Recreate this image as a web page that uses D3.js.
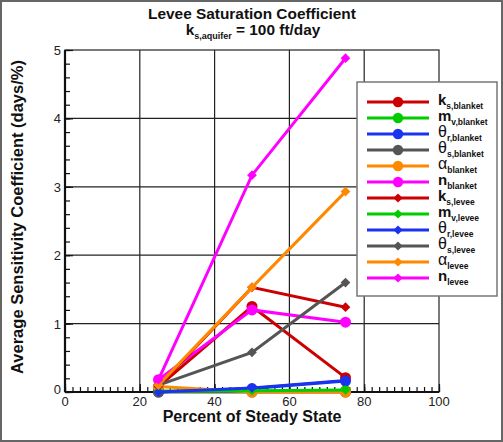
<!DOCTYPE html>
<html>
<head>
<meta charset="utf-8">
<script src="https://cdn.jsdelivr.net/npm/d3@7"></script>
<style>
  html, body { margin: 0; padding: 0; background: #fff; }
  svg { display: block; font-family: "Liberation Sans", Arial, sans-serif; }
</style>
</head>
<body>
<div id="chart"></div>
<script>
const xValues = [25, 50, 75];

const ksBlanket = [0.08, 1.25, 0.21];
const mvBlanket = [0.01, 0.01, 0.02];
const thetaRBlanket = [0.0, 0.05, 0.16];
const thetaSBlanket = [0.0, 0.0, 0.0];
const alphaBlanket = [0.08, 0.0, 0.0];
const nBlanket = [0.18, 1.2, 1.02];
const ksLevee = [0.08, 1.53, 1.24];
const mvLevee = [0.01, 0.02, 0.03];
const thetaRLevee = [0.0, 0.06, 0.17];
const thetaSLevee = [0.1, 0.58, 1.6];
const alphaLevee = [0.1, 1.53, 2.93];
const nLevee = [0.18, 3.17, 4.88];

const xTicks = [0, 20, 40, 60, 80, 100];
const yTicks = [0, 1, 2, 3, 4, 5];

const seriesList = [
  { main: "k", sub: "s,blanket", greek: false, values: ksBlanket, color: "#cc0000", shape: "circle" },
  { main: "m", sub: "v,blanket", greek: false, values: mvBlanket, color: "#00cc00", shape: "circle" },
  { main: "\u03b8", sub: "r,blanket", greek: true, values: thetaRBlanket, color: "#1a33ee", shape: "circle" },
  { main: "\u03b8", sub: "s,blanket", greek: true, values: thetaSBlanket, color: "#555555", shape: "circle" },
  { main: "\u03b1", sub: "blanket", greek: true, values: alphaBlanket, color: "#ff8800", shape: "circle" },
  { main: "n", sub: "blanket", greek: false, values: nBlanket, color: "#ff00ff", shape: "circle" },
  { main: "k", sub: "s,levee", greek: false, values: ksLevee, color: "#cc0000", shape: "diamond" },
  { main: "m", sub: "v,levee", greek: false, values: mvLevee, color: "#00cc00", shape: "diamond" },
  { main: "\u03b8", sub: "r,levee", greek: true, values: thetaRLevee, color: "#1a33ee", shape: "diamond" },
  { main: "\u03b8", sub: "s,levee", greek: true, values: thetaSLevee, color: "#555555", shape: "diamond" },
  { main: "\u03b1", sub: "levee", greek: true, values: alphaLevee, color: "#ff8800", shape: "diamond" },
  { main: "n", sub: "levee", greek: false, values: nLevee, color: "#ff00ff", shape: "diamond" }
];

const W = 503, H = 442;
const plot = { left: 65, right: 439, top: 50, bottom: 392 };

const x = d3.scaleLinear().domain([0, 100]).range([plot.left, plot.right]);
const y = d3.scaleLinear().domain([0, 5]).range([plot.bottom, plot.top]);

const svg = d3.select("#chart").append("svg")
  .attr("width", W)
  .attr("height", H);

// image frame
svg.append("rect")
  .attr("x", 1).attr("y", 1)
  .attr("width", W - 2).attr("height", H - 2)
  .attr("fill", "#fff")
  .attr("stroke", "#666")
  .attr("stroke-width", 2);

// grid
const grid = svg.append("g").attr("stroke", "#222").attr("stroke-width", 1.2);
xTicks.slice(1, -1).forEach((t) => {
  grid.append("line")
    .attr("x1", x(t)).attr("x2", x(t))
    .attr("y1", plot.top).attr("y2", plot.bottom);
});
yTicks.slice(1, -1).forEach((t) => {
  grid.append("line")
    .attr("x1", plot.left).attr("x2", plot.right)
    .attr("y1", y(t)).attr("y2", y(t));
});

// frame of plot
svg.append("rect")
  .attr("x", plot.left).attr("y", plot.top)
  .attr("width", plot.right - plot.left).attr("height", plot.bottom - plot.top)
  .attr("fill", "none").attr("stroke", "#222").attr("stroke-width", 1.2);

// axes with inward ticks
const xAxisMinor = d3.axisTop(x).tickValues(d3.range(0, 101, 2)).tickSize(5).tickFormat("");
const xAxisMajor = d3.axisTop(x).tickValues(xTicks).tickSize(8).tickFormat("");
const yAxisMinor = d3.axisRight(y).tickValues(d3.range(0, 5.01, 0.2)).tickSize(5).tickFormat("");
const yAxisMajor = d3.axisRight(y).tickValues(yTicks).tickSize(8).tickFormat("");

[xAxisMinor, xAxisMajor].forEach((ax) => {
  const g = svg.append("g").attr("transform", `translate(0,${plot.bottom})`).call(ax);
  g.select(".domain").remove();
  g.selectAll("line").attr("stroke", "#111").attr("stroke-width", 1.2);
});
[yAxisMinor, yAxisMajor].forEach((ax) => {
  const g = svg.append("g").attr("transform", `translate(${plot.left},0)`).call(ax);
  g.select(".domain").remove();
  g.selectAll("line").attr("stroke", "#111").attr("stroke-width", 1.2);
});

// thick axis lines
svg.append("line")
  .attr("x1", plot.left).attr("x2", plot.right)
  .attr("y1", plot.bottom).attr("y2", plot.bottom)
  .attr("stroke", "#111").attr("stroke-width", 2.2);
svg.append("line")
  .attr("x1", plot.left).attr("x2", plot.left)
  .attr("y1", plot.top).attr("y2", plot.bottom)
  .attr("stroke", "#111").attr("stroke-width", 2.2);

// tick labels
svg.append("g").selectAll("text")
  .data(xTicks)
  .join("text")
  .attr("x", (d) => x(d))
  .attr("y", plot.bottom + 14)
  .attr("text-anchor", "middle")
  .attr("font-size", 13)
  .attr("fill", "#222")
  .text((d) => d);

svg.append("g").selectAll("text")
  .data(yTicks)
  .join("text")
  .attr("x", plot.left - 4)
  .attr("y", (d) => y(d) + (d === 0 ? 2 : 5))
  .attr("text-anchor", "end")
  .attr("font-size", 13)
  .attr("fill", "#222")
  .text((d) => d);

// axis titles
svg.append("text")
  .attr("x", 252)
  .attr("y", 422)
  .attr("text-anchor", "middle")
  .attr("font-size", 16)
  .attr("font-weight", "bold")
  .attr("fill", "#111")
  .text("Percent of Steady State");

svg.append("text")
  .attr("transform", `translate(23,${(plot.top + plot.bottom) / 2 - 4}) rotate(-90)`)
  .attr("text-anchor", "middle")
  .attr("font-size", 16.5)
  .attr("font-weight", "bold")
  .attr("fill", "#111")
  .text("Average Sensitivity Coefficient (days/%)");

// title
svg.append("text")
  .attr("x", 252)
  .attr("y", 19)
  .attr("text-anchor", "middle")
  .attr("font-size", 15.4)
  .attr("font-weight", "bold")
  .attr("fill", "#111")
  .text("Levee Saturation Coefficient");

const sub = svg.append("text")
  .attr("x", 253)
  .attr("y", 35)
  .attr("text-anchor", "middle")
  .attr("font-size", 15.4)
  .attr("font-weight", "bold")
  .attr("fill", "#111");
sub.append("tspan").text("k");
sub.append("tspan").attr("font-size", 9).attr("dy", 4).text("s,aquifer");
sub.append("tspan").attr("dy", -4).text(" = 100 ft/day");

// series
const line = d3.line().x((d) => x(d[0])).y((d) => y(d[1]));

function drawMarker(g, shape, color, cx, cy, scale) {
  if (shape === "circle") {
    g.append("circle")
      .attr("cx", cx).attr("cy", cy).attr("r", 5.5 * scale)
      .attr("fill", color);
  } else {
    g.append("path")
      .attr("d", d3.symbol().type(d3.symbolDiamond2).size(60 * scale * scale)())
      .attr("transform", `translate(${cx},${cy})`)
      .attr("fill", color);
  }
}

const seriesG = svg.append("g");
seriesList.forEach((s) => {
  const pts = xValues.map((xv, i) => [xv, s.values[i]]);
  const g = seriesG.append("g");
  g.append("path")
    .attr("d", line(pts))
    .attr("fill", "none")
    .attr("stroke", s.color)
    .attr("stroke-width", 3);
  pts.forEach((p) => drawMarker(g, s.shape, s.color, x(p[0]), y(p[1]), 1));
});

// legend
const legend = svg.append("g");
legend.append("rect")
  .attr("x", 357).attr("y", 82)
  .attr("width", 140).attr("height", 214)
  .attr("fill", "#fff")
  .attr("stroke", "#777")
  .attr("stroke-width", 1.5);

seriesList.forEach((s, i) => {
  const ly = 102 + i * 16;
  legend.append("line")
    .attr("x1", 367).attr("x2", 429)
    .attr("y1", ly).attr("y2", ly)
    .attr("stroke", s.color).attr("stroke-width", 3);
  drawMarker(legend, s.shape, s.color, 398, ly, 0.95);
  const t = legend.append("text")
    .attr("x", 438)
    .attr("y", ly + 3)
    .attr("fill", "#111");
  t.append("tspan")
    .attr("font-size", s.greek ? 16 : 15)
    .attr("font-weight", s.greek ? "normal" : "bold")
    .text(s.main);
  t.append("tspan")
    .attr("font-size", 8.5)
    .attr("font-weight", "bold")
    .attr("dy", 4)
    .text(s.sub);
});
</script>
</body>
</html>
